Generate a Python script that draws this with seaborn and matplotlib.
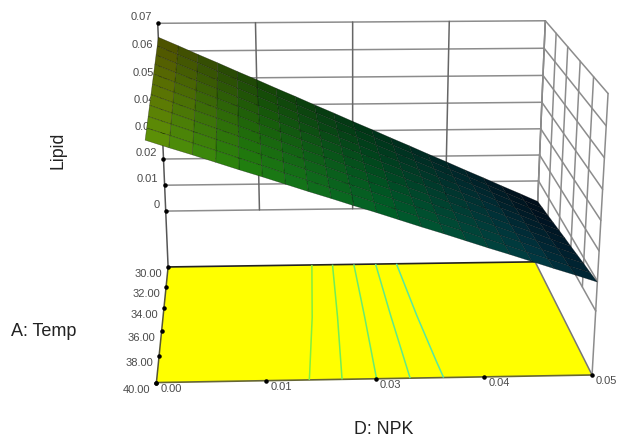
import numpy as np
import matplotlib
matplotlib.use('Agg')
import matplotlib.pyplot as plt
import seaborn as sns

sns.set_style("white")
plt.rcParams['font.family'] = ['Liberation Sans', 'DejaVu Sans']

# Axis values and tick labels
npk = [0.0, 0.0025, 0.005, 0.0075, 0.01, 0.0125, 0.015, 0.0175, 0.02, 0.0225, 0.025,
       0.0275, 0.03, 0.0325, 0.035, 0.0375, 0.04, 0.0425, 0.045, 0.0475, 0.05]
temp = [30, 31, 32, 33, 34, 35, 36, 37, 38, 39, 40]
npk_ticks = [0.0, 0.0125, 0.025, 0.0375, 0.05]
npk_labels = ['0.00', '0.01', '0.03', '0.04', '0.05']
temp_ticks = [30, 32, 34, 36, 38, 40]
temp_labels = ['30.00', '32.00', '34.00', '36.00', '38.00', '40.00']
lipid_ticks = [0, 0.01, 0.02, 0.03, 0.04, 0.05, 0.06, 0.07]
lipid_labels = ['0', '0.01', '0.02', '0.03', '0.04', '0.05', '0.06', '0.07']
floor_z = -0.022

# Lipid read from the surface, one row per temperature
lipid = [
    [.0650, .0619, .0587, .0556, .0524, .0493, .0461, .0430, .0398, .0367, .0335, .0304, .0272, .0241, .0209, .0178, .0146, .0115, .0083, .0052, .0020],
    [.0642, .0611, .0581, .0550, .0519, .0489, .0458, .0427, .0396, .0366, .0335, .0304, .0274, .0243, .0212, .0181, .0151, .0120, .0089, .0058, .0028],
    [.0634, .0604, .0574, .0544, .0514, .0484, .0454, .0424, .0394, .0364, .0335, .0305, .0275, .0245, .0215, .0185, .0155, .0125, .0095, .0065, .0035],
    [.0626, .0597, .0568, .0539, .0509, .0480, .0451, .0422, .0393, .0364, .0335, .0305, .0276, .0247, .0218, .0189, .0160, .0130, .0101, .0072, .0043],
    [.0618, .0590, .0561, .0533, .0505, .0476, .0448, .0420, .0391, .0363, .0335, .0306, .0278, .0250, .0221, .0193, .0165, .0136, .0108, .0079, .0051],
    [.0610, .0582, .0555, .0527, .0500, .0472, .0445, .0417, .0390, .0362, .0335, .0307, .0279, .0252, .0224, .0197, .0169, .0142, .0114, .0087, .0059],
    [.0602, .0575, .0548, .0522, .0495, .0468, .0441, .0414, .0388, .0361, .0334, .0307, .0280, .0254, .0227, .0200, .0173, .0146, .0120, .0093, .0066],
    [.0594, .0568, .0542, .0516, .0490, .0464, .0438, .0412, .0386, .0360, .0334, .0308, .0282, .0256, .0230, .0204, .0178, .0152, .0126, .0100, .0074],
    [.0586, .0561, .0536, .0510, .0485, .0460, .0435, .0410, .0384, .0359, .0334, .0309, .0284, .0258, .0233, .0208, .0183, .0158, .0132, .0107, .0082],
    [.0578, .0554, .0529, .0505, .0480, .0456, .0431, .0407, .0382, .0358, .0334, .0309, .0285, .0260, .0236, .0211, .0187, .0162, .0138, .0113, .0089],
    [.0570, .0546, .0523, .0499, .0475, .0452, .0428, .0404, .0381, .0357, .0334, .0310, .0286, .0263, .0239, .0215, .0192, .0168, .0144, .0121, .0097],
]
contour_levels = [0.026, 0.0296, 0.0333, 0.037, 0.0405]
contour_colors = ['#58e8a0', '#60ea88', '#68ec70', '#70ee58', '#80f040']

# Camera: where a few box corners land on the canvas (x, temp, z, px, py)
camera_anchors = [
    (0.00, 40, floor_z, 157, 383), (0.05, 40, floor_z, 591.5, 375),
    (0.00, 30, floor_z, 168, 268), (0.05, 30, floor_z, 535, 262),
    (0.00, 30, 0.07, 157, 24), (0.05, 30, 0.07, 546, 21),
    (0.05, 40, 0.07, 608, 93), (0.00, 30, 0.0, 166, 209),
]
W, H = 618.0, 441.0


def fit_camera(anchors):
    scale = np.diag([20.0, 0.1, 14.0, 1.0])
    rows = []
    for x, a, z, px, py in anchors:
        p = scale @ np.array([x, a, z, 1.0])
        u, v = 2 * px / W - 1, 1 - 2 * py / H  # mplot3d clips lines outside -1..1
        rows.append(np.r_[p, np.zeros(4), -u * p])
        rows.append(np.r_[np.zeros(4), p, -v * p])
    p_mat = np.linalg.svd(np.array(rows))[2][-1].reshape(3, 4) @ scale
    if p_mat[2] @ np.array([0.025, 35, 0.02, 1.0]) < 0:
        p_mat = -p_mat
    # third row is depth only, so back rows get painted first
    return np.vstack([p_mat[0], p_mat[1], [0, -1, 0, 0], p_mat[2]])


cam = fit_camera(camera_anchors)


def to_figure(x, a, z):
    hx, hy, _, hw = cam @ np.array([x, a, z, 1.0])
    return (hx / hw + 1) / 2, (hy / hw + 1) / 2


fig = plt.figure(figsize=(6.18, 4.41), dpi=100)
ax = fig.add_axes([0, 0, 1, 1], projection='3d')
ax.set_axis_off()
ax.patch.set_visible(False)
ax.computed_zorder = False
ax.get_proj = lambda: cam
ax.apply_aspect = lambda position=None: None

grid_color = '#8c8c8c'
# back wall
for v in lipid_ticks:
    ax.plot([0, 0.05], [30, 30], [v, v], color=grid_color, lw=1.1, zorder=1)
for v in npk_ticks[1:]:
    ax.plot([v, v], [30, 30], [0, 0.07], color='#666666', lw=1.1, zorder=1)
# right wall
for v in lipid_ticks:
    ax.plot([0.05, 0.05], [30, 40], [v, v], color=grid_color, lw=1.1, zorder=1)
for v in temp_ticks:
    ax.plot([0.05, 0.05], [v, v], [0, 0.07], color=grid_color, lw=1.1, zorder=1)
ax.plot([0.05, 0.05], [40, 40], [floor_z, 0], color=grid_color, lw=1.1, zorder=1)
ax.plot([0, 0], [30, 30], [floor_z, 0.07], color='#555555', lw=1.1, zorder=1)

# contour floor
fx, fa = np.meshgrid([0, 0.05], [30, 40])
ax.plot_surface(fx, fa, np.full(fx.shape, floor_z), color='#ffff00', shade=False,
                edgecolor='none', zorder=2)
ax.plot([0, 0.05], [30, 30], [floor_z, floor_z], color='#222222', lw=1.2, zorder=3)
ax.plot([0, 0.05], [40, 40], [floor_z, floor_z], color='#666633', lw=1.2, zorder=3)
ax.plot([0, 0], [30, 40], [floor_z, floor_z], color='#555533', lw=1.1, zorder=3)
ax.plot([0.05, 0.05], [30, 40], [floor_z, floor_z], color='#777777', lw=1.1, zorder=3)

X, Y = np.meshgrid(npk, temp)
Z = np.array(lipid)
# every 5th row is enough here, keeps the rounding wobble out of the lines
ax.contour(X[::5], Y[::5], Z[::5], levels=contour_levels, zdir='z', offset=floor_z,
           colors=contour_colors, linewidths=1.1, zorder=3)

# surface colour: hue from the height, brightness from where it sits
height_cmap = sns.blend_palette(['#001e64', '#00788c', '#008c3c', '#289610', '#8c9600'], as_cmap=True)
face = height_cmap((Z - 0.0) / 0.065)
bright = (0.55 + 0.45 * (Y - 30) / 10) * (1 - 0.6 * X / 0.05)
face[..., :3] *= bright[..., None]
ax.plot_surface(X, Y, Z, facecolors=face, shade=False, rstride=1, cstride=1,
                edgecolor='#00000070', linewidth=0.4, zorder=4)

# ticks
ax.scatter(npk_ticks, [40] * len(npk_ticks), [floor_z] * len(npk_ticks), c='black', s=5, depthshade=False, zorder=5)
ax.scatter([0] * len(temp_ticks), temp_ticks, [floor_z] * len(temp_ticks), c='black', s=5, depthshade=False, zorder=5)
ax.scatter([0] * len(lipid_ticks), [30] * len(lipid_ticks), lipid_ticks, c='black', s=5, depthshade=False, zorder=1.5)

# the 2d view of the 3d axes is the whole canvas
ax.viewLim.set_points(np.array([[-1.0, -1.0], [1.0, 1.0]]))

ink = '#4a4a4a'
for v, s in zip(npk_ticks, npk_labels):
    fx0, fy0 = to_figure(v, 40, floor_z)
    fig.text(fx0 + 4 / W, fy0 - 6 / H, s, ha='left', va='center', fontsize=8, color=ink)
for v, s in zip(temp_ticks, temp_labels):
    fx0, fy0 = to_figure(0, v, floor_z)
    fig.text(fx0 - 6 / W, fy0 - 7 / H, s, ha='right', va='center', fontsize=8, color=ink)
# these go under the axes, the surface hides part of them
for v, s in zip(lipid_ticks, lipid_labels):
    fx0, fy0 = to_figure(0, 30, v)
    fig.text(fx0 - 6 / W, fy0 + 6 / H, s, ha='right', va='center', fontsize=8, color=ink, zorder=-1)

fig.text(58 / W, 1 - 150 / H, 'Lipid', rotation=90, ha='center', va='center', fontsize=12.8, color='#222222')
fig.text(44 / W, 1 - 331 / H, 'A: Temp', ha='center', va='center', fontsize=13, color='#222222')
fig.text(384 / W, 1 - 430 / H, 'D: NPK', ha='center', va='center', fontsize=12.8, color='#222222')

fig.savefig('out.png', dpi=100)
